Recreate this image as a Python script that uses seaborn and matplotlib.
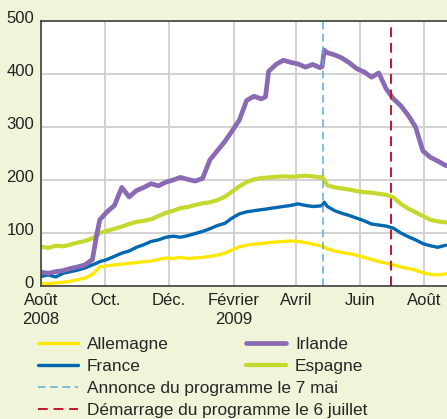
import numpy as np
import pandas as pd
import matplotlib.pyplot as plt
import matplotlib.transforms as mtransforms
from matplotlib.lines import Line2D
import seaborn as sns

sns.set_theme(style="white")
plt.rcParams["font.family"] = ["Liberation Sans Narrow", "Liberation Sans", "DejaVu Sans"]

# days since 1 Aug 2008
days = [0, 7, 14, 21, 28, 35, 42, 49, 53, 56,
        63, 70, 77, 84, 91, 98, 105, 112, 119, 126,
        133, 140, 147, 154, 161, 168, 175, 182, 189, 196,
        203, 210, 214, 217, 224, 231, 238, 245, 252, 259,
        266, 268, 270, 273, 280, 287, 294, 301, 308, 315,
        322, 329, 336, 343, 350, 357, 364, 371, 378, 386]

irlande = [26, 24, 27, 29, 33, 36, 40, 50, 95, 125,
           140, 152, 186, 168, 180, 186, 193, 189, 196, 200,
           205, 201, 198, 203, 238, 255, 272, 292, 313, 350,
           358, 353, 357, 405, 418, 426, 422, 419, 413, 418,
           412, 414, 445, 440, 436, 430, 421, 410, 404, 394,
           402, 372, 353, 340, 322, 300, 255, 243, 236, 227]

france = [18, 21, 17, 24, 27, 30, 34, 40, 43, 46,
          50, 56, 62, 66, 73, 78, 84, 87, 92, 94,
          92, 95, 99, 103, 108, 114, 118, 128, 136, 140,
          142, 144, 145, 146, 148, 150, 152, 155, 152, 150,
          151, 152, 158, 150, 142, 137, 133, 128, 123, 117,
          115, 113, 109, 100, 93, 87, 80, 76, 73, 77]

allemagne = [5, 4, 6, 7, 9, 12, 15, 22, 30, 36,
             38, 40, 41, 43, 44, 46, 47, 50, 53, 52,
             54, 52, 53, 54, 56, 58, 62, 68, 74, 77,
             79, 80, 81, 82, 83, 84, 85, 84, 82, 79,
             76, 75, 74, 70, 66, 63, 61, 58, 54, 50,
             46, 43, 40, 36, 33, 30, 25, 22, 21, 23]

espagne = [74, 72, 76, 75, 78, 82, 85, 90, 95, 100,
           104, 108, 112, 117, 121, 123, 126, 132, 138, 142,
           147, 149, 153, 156, 158, 162, 168, 178, 188, 196,
           201, 204, 204, 205, 206, 207, 206, 207, 208, 207,
           205, 206, 200, 190, 186, 184, 182, 179, 177, 176,
           174, 172, 167, 155, 146, 139, 132, 125, 122, 120]

tick_dates = ["2008-08-01", "2008-10-01", "2008-12-01", "2009-02-01",
              "2009-04-01", "2009-06-01", "2009-08-01"]
tick_labels = ["Août\n2008", "Oct.", "Déc.", "Février\n2009", "Avril", "Juin", "Août"]
yticks = [0, 100, 200, 300, 400, 500]

annonce = "2009-04-27"
demarrage = "2009-07-01"

BG = "#F0F4D8"
colors = {"Allemagne": "#FFE800", "France": "#0067B1",
          "Irlande": "#8A6BB3", "Espagne": "#C4D82E"}
widths = {"Allemagne": 2.4, "France": 2.4, "Irlande": 3.4, "Espagne": 3.0}

dates = pd.Timestamp("2008-08-01") + pd.to_timedelta(days, unit="D")
df = pd.DataFrame({"date": dates, "Allemagne": allemagne, "France": france,
                   "Espagne": espagne, "Irlande": irlande})

fig = plt.figure(figsize=(4.47, 4.19), dpi=100, facecolor=BG)
ax = fig.add_axes([41 / 447, 133 / 419, 1 - 41 / 447, 265 / 419])
ax.set_facecolor("white")

for name in ["Allemagne", "France", "Espagne", "Irlande"]:
    sns.lineplot(data=df, x="date", y=name, ax=ax, color=colors[name],
                 linewidth=widths[name], label=name, legend=False)

ax.axvline(pd.Timestamp(annonce), color="#5AAEE0", linestyle=(0, (5, 3)), linewidth=1.1)
ax.axvline(pd.Timestamp(demarrage), color="#C8102E", linestyle=(0, (5, 3)), linewidth=1.4)

ax.set_xlim(pd.Timestamp("2008-08-01"), pd.Timestamp("2009-08-23"))
ax.set_ylim(0, 500)
ax.set_xticks(pd.to_datetime(tick_dates))
ax.set_xticklabels(tick_labels, fontsize=12, color="#222222", linespacing=1.35)
ax.set_yticks(yticks)
ax.set_yticklabels([str(v) for v in yticks], fontsize=12, color="#222222")
ax.tick_params(axis="both", length=0, pad=5)
# y labels sit a little above their gridlines in the original
shift = mtransforms.ScaledTranslation(0, 3 / 72, fig.dpi_scale_trans)
for lbl in ax.get_yticklabels():
    lbl.set_transform(lbl.get_transform() + shift)
ax.grid(True, color="#CFCFCF", linewidth=1.3)
ax.set_axisbelow(True)
ax.set_xlabel("")
ax.set_ylabel("")
for side in ["left", "top", "bottom"]:
    ax.spines[side].set_color("#333333")
    ax.spines[side].set_linewidth(1.1)
ax.spines["right"].set_visible(False)

legend_kw = dict(frameon=False, fontsize=12.4, handlelength=2.3, handletextpad=0.55,
                 labelspacing=0.38, borderaxespad=0, borderpad=0)

def handle(name):
    return Line2D([], [], color=colors[name], linewidth=widths[name])

leg1 = fig.legend([handle("Allemagne"), handle("France")], ["Allemagne", "France"],
                  loc="upper left", bbox_to_anchor=(38 / 447, 1 - 337 / 419), **legend_kw)
leg2 = fig.legend([handle("Irlande"), handle("Espagne")], ["Irlande", "Espagne"],
                  loc="upper left", bbox_to_anchor=(246 / 447, 1 - 337 / 419), **legend_kw)
vl = [Line2D([], [], color="#5AAEE0", linestyle=(0, (5, 3)), linewidth=1.1),
      Line2D([], [], color="#C8102E", linestyle=(0, (5, 3)), linewidth=1.4)]
leg3 = fig.legend(vl, ["Annonce du programme le 7 mai", "Démarrage du programme le 6 juillet"],
                  loc="upper left", bbox_to_anchor=(38 / 447, 1 - 381 / 419), **legend_kw)

fig.savefig("out.png", dpi=100, facecolor=BG)
